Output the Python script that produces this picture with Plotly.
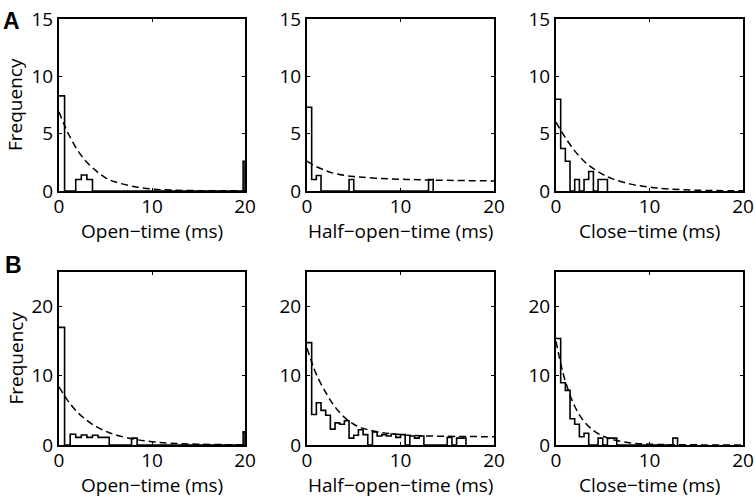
import plotly.graph_objects as go

# histogram outlines: bin edges (ms) and frequency per bin
# row A
open_a_edges = [0, 0.6, 1.8, 2.4, 3.0, 3.6, 19.8, 20]
open_a_counts = [8.3, 0, 1.0, 1.4, 1.0, 0, 2.6]

half_a_edges = [0, 0.5, 1.0, 1.5, 4.5, 5.0, 13.0, 13.5]
half_a_counts = [7.3, 1.0, 1.35, 0, 1.0, 0, 1.0]

close_a_edges = [0, 0.5, 1.0, 1.5, 2.0, 2.5, 3.0, 3.5, 4.0, 4.5, 5.0, 5.5]
close_a_counts = [8.0, 3.7, 2.6, 0, 1.0, 0, 1.0, 1.7, 0, 1.0, 1.0]

# row B
open_b_edges = [0, 0.6, 1.2, 1.8, 2.4, 3.0, 3.6, 4.2, 4.8, 5.4, 7.8, 8.4, 19.8, 20]
open_b_counts = [17.0, 0, 1.55, 1.1, 1.45, 1.1, 1.4, 1.1, 1.1, 0, 1.0, 0, 1.9]

half_b_edges = [0, 0.5, 1.0, 1.5, 2.0, 2.5, 3.0, 3.5, 4.0, 4.5, 5.0, 5.5, 6.0, 6.5, 7.0,
                7.5, 8.0, 8.5, 9.0, 9.5, 10.0, 10.5, 11.0, 11.5, 12.0, 12.5, 15.0,
                15.5, 16.0, 16.5, 17.0]
half_b_counts = [14.8, 4.4, 6.1, 5.0, 4.3, 2.3, 3.2, 3.0, 3.5, 1.0, 1.4, 2.2, 1.5, 0,
                 1.9, 1.3, 1.5, 1.3, 1.6, 1.1, 1.5, 0, 1.3, 1.0, 1.3, 0, 1.1, 0, 1.0, 1.0]

close_b_edges = [0, 0.5, 1.0, 1.5, 2.0, 2.5, 3.0, 3.5, 4.5, 5.0, 5.5, 6.0, 6.5, 12.5, 13.0]
close_b_counts = [15.4, 9.0, 7.9, 3.8, 3.0, 1.2, 1.7, 0, 1.0, 0, 1.0, 1.0, 0, 1.0]

# fitted exponential (dashed), sampled off the figure
fit_x = [0, 0.5, 1, 2, 3, 4, 5, 6, 8, 10, 12, 15, 20]
open_a_fit = [6.9, 5.9, 5.0, 3.55, 2.5, 1.75, 1.15, 0.8, 0.4, 0.17, 0.08, 0.03, 0.01]
half_a_fit = [2.6, 2.35, 2.12, 1.78, 1.52, 1.36, 1.26, 1.19, 1.09, 1.03, 0.98, 0.93, 0.88]
close_a_fit = [6.0, 5.3, 4.65, 3.5, 2.6, 1.95, 1.45, 1.08, 0.6, 0.33, 0.18, 0.07, 0.02]
open_b_fit = [8.4, 7.3, 6.3, 4.7, 3.55, 2.65, 2.0, 1.5, 0.85, 0.48, 0.27, 0.11, 0.03]
half_b_fit = [14.0, 12.0, 10.2, 7.6, 5.5, 4.0, 3.0, 2.4, 1.8, 1.5, 1.35, 1.25, 1.2]
close_b_fit = [15.0, 11.8, 9.2, 5.6, 3.4, 2.1, 1.3, 0.8, 0.3, 0.12, 0.05, 0.02, 0.0]

x_titles = ["Open\u2212time (ms)", "Half\u2212open\u2212time (ms)", "Close\u2212time (ms)"]

panels = [
    (open_a_edges, open_a_counts, open_a_fit),
    (half_a_edges, half_a_counts, half_a_fit),
    (close_a_edges, close_a_counts, close_a_fit),
    (open_b_edges, open_b_counts, open_b_fit),
    (half_b_edges, half_b_counts, half_b_fit),
    (close_b_edges, close_b_counts, close_b_fit),
]

W, H = 755, 498
col_px = [(59, 245), (307, 494), (556, 743)]
row_px = [(19, 191), (272, 445)]


def px_x(p):
    return p / W


def px_y(p):
    return 1 - p / H


font = "Open Sans, Noto Sans, sans-serif"

fig = go.Figure()
layout = {}
notes = []

for i, (edges, counts, fit) in enumerate(panels):
    r, c = divmod(i, 3)
    n = i + 1
    xa = "x" if n == 1 else "x%d" % n
    ya = "y" if n == 1 else "y%d" % n

    fig.add_trace(go.Scatter(x=edges, y=counts + [0], mode="lines", line_shape="hv",
                             line=dict(color="black", width=1.6), xaxis=xa, yaxis=ya,
                             showlegend=False, hoverinfo="skip"))
    fig.add_trace(go.Scatter(x=fit_x, y=fit, mode="lines", line_shape="spline",
                             line=dict(color="black", width=1.5, dash="7px,4px"),
                             xaxis=xa, yaxis=ya, showlegend=False, hoverinfo="skip"))

    x0, x1 = col_px[c]
    top, bot = row_px[r]
    common = dict(showline=True, linecolor="black", linewidth=2, mirror="ticks",
                  ticks="inside", ticklen=3, tickcolor="black", showgrid=False,
                  zeroline=False, automargin=False, ticklabeloverflow="allow",
                  tickfont=dict(family=font, size=19, color="black"))
    layout["xaxis" + ("" if n == 1 else str(n))] = dict(
        common, domain=[px_x(x0), px_x(x1)], anchor=ya, range=[0, 20],
        tickvals=[0, 10, 20], ticklabelstandoff=-3)
    yr = [0, 15] if r == 0 else [0, 25]
    yt = [0, 5, 10, 15] if r == 0 else [0, 10, 20]
    layout["yaxis" + ("" if n == 1 else str(n))] = dict(
        common, domain=[px_y(bot), px_y(top)], anchor=xa, range=yr, tickvals=yt)

    # x-axis title
    notes.append(dict(text=x_titles[c], x=px_x((x0 + x1) / 2), y=px_y(bot + 40),
                      xref="paper", yref="paper", xanchor="center", yanchor="middle",
                      showarrow=False, font=dict(family=font, size=19, color="black")))
    if c == 0:
        notes.append(dict(text="Frequency", x=px_x(15), y=px_y((top + bot) / 2),
                          xref="paper", yref="paper", xanchor="center",
                          yanchor="middle", textangle=-90, showarrow=False,
                          font=dict(family=font, size=19, color="black")))

notes.append(dict(text="<b>A</b>", x=px_x(1), y=px_y(6), xref="paper", yref="paper",
                  xanchor="left", yanchor="top", showarrow=False,
                  font=dict(family="Liberation Sans, Arial", size=23, color="black")))
notes.append(dict(text="<b>B</b>", x=px_x(3), y=px_y(250), xref="paper", yref="paper",
                  xanchor="left", yanchor="top", showarrow=False,
                  font=dict(family="Liberation Sans, Arial", size=23, color="black")))

fig.update_layout(**layout)
fig.update_layout(
    width=W, height=H, margin=dict(l=0, r=0, t=0, b=0, autoexpand=False),
    paper_bgcolor="white", plot_bgcolor="white", annotations=notes,
)

# drop the page's default body margin so the figure fills the window
fig.write_html("out.html", config={"displayModeBar": False},
               post_script="document.body.style.margin = '0px';")
